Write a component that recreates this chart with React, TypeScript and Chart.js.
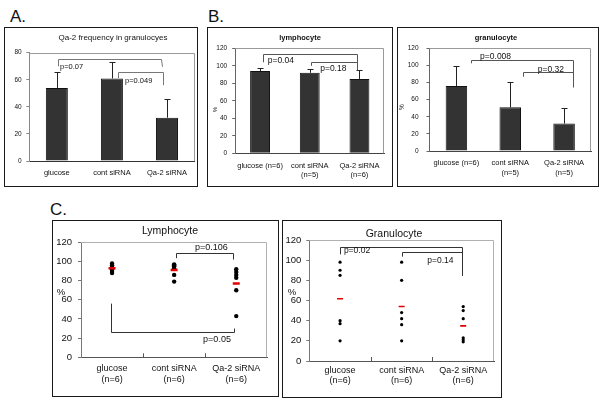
import React, { useEffect, useRef } from "react";
import { Chart, registerables } from "chart.js";
Chart.register(...registerables);

const FONT = "'Liberation Sans', Arial, sans-serif";

// ---------- Data ----------
// Panel A
const catsA: (string | string[])[] = ["glucose", "cont siRNA", "Qa-2 siRNA"];
const meanA = [54, 61, 32];
const sdA = [12, 12, 14];
const yTicksA = [0, 20, 40, 60, 80];

// Panel B
const catsBL: (string | string[])[] = [["glucose (n=6)"], ["cont siRNA", "(n=5)"], ["Qa-2 siRNA", "(n=6)"]];
const catsBG: (string | string[])[] = [["glucose (n=6)"], ["cont siRNA", "(n=5)"], ["Qa-2 siRNA", "(n=5)"]];
const meanBL = [94, 92, 85];
const sdBL = [4, 4, 10];
const meanBG = [76, 51, 32];
const sdBG = [23, 30, 18];
const yTicks120 = [0, 20, 40, 60, 80, 100, 120];

// Panel C
const catsC: (string | string[])[] = [["glucose", "(n=6)"], ["cont siRNA", "(n=6)"], ["Qa-2 siRNA", "(n=6)"]];
const lymphGlucose = [98, 96, 94, 92, 90, 88];
const lymphCont = [97, 96, 95, 93, 86, 79];
const lymphQa2 = [92, 89, 86, 83, 70, 43];
const lymphMeans = [93, 91, 77];
const granGlucose = [98, 90, 85, 40, 37, 20];
const granCont = [98, 80, 48, 42, 36, 20];
const granQa2 = [54, 50, 42, 23, 21, 19];
const granMeans = [61.7, 54, 34.8];

// ---------- Annotation specs (x in category units, y in data units) ----------
interface Bracket { x1: number; x2: number; y: number; y1: number; y2: number; x2e?: number; }
interface PText { text: string; x: number; y: number; align: CanvasTextAlign; }

const bracketsA: Bracket[] = [
  { x1: 0.03, x2: 1.886, y: 75, y1: 70, y2: 69.6, x2e: 1.915 },
  { x1: 1.116, x2: 1.933, y: 66, y1: 61.3, y2: 56 },
];
const pA: PText[] = [
  { text: "p=0.07", x: 0.057, y: 69.6, align: "left" },
  { text: "p=0.049", x: 1.238, y: 59, align: "left" },
];
const bracketsBL: Bracket[] = [
  { x1: 0.065, x2: 1.957, y: 113.5, y1: 104, y2: 94.9 },
  { x1: 1.02, x2: 1.957, y: 104, y1: 100, y2: 94.9 },
];
const pBL: PText[] = [
  { text: "p=0.04", x: 0.154, y: 105.8, align: "left" },
  { text: "p=0.18", x: 1.21, y: 97.1, align: "left" },
];
const bracketsBG: Bracket[] = [
  { x1: 0.271, x2: 2.16, y: 106, y1: 102.5, y2: 74.4 },
  { x1: 1.23, x2: 2.16, y: 92.6, y1: 86.8, y2: 74.4 },
];
const pBG: PText[] = [
  { text: "p=0.008", x: 0.44, y: 109.9, align: "left" },
  { text: "p=0.32", x: 1.51, y: 95.6, align: "left" },
];
const bracketsCL: Bracket[] = [
  { x1: 1.03, x2: 1.95, y: 108.5, y1: 103.5, y2: 102 },
  { x1: -0.01, x2: 1.97, y: 26.7, y1: 56, y2: 30 },
];
const pCL: PText[] = [
  { text: "p=0.106", x: 1.6, y: 114.8, align: "center" },
  { text: "p=0.05", x: 1.69, y: 18.5, align: "center" },
];
const bracketsCG: Bracket[] = [
  { x1: 0, x2: 1.974, y: 113.4, y1: 105.8, y2: 84.6 },
  { x1: 1.01, x2: 1.974, y: 107.8, y1: 103.5, y2: 84.6 },
];
const pCG: PText[] = [
  { text: "p=0.02", x: 0.275, y: 109.1, align: "center" },
  { text: "p=0.14", x: 1.63, y: 99.5, align: "center" },
];

type Box = [number, number, number, number];

interface Panel {
  box: Box;
  plot: Box;
  kind: "bar" | "dot";
  cats: (string | string[])[];
  yMax: number;
  yTicks: number[];
  means: number[];
  sds?: number[];
  dots?: number[][];
  dotR?: number;
  meanR?: number;
  meanW?: number;
  title: string;
  titleX: number;
  titleY: number;
  titleSize: number;
  titleBold: boolean;
  ySize: number;
  catSize: number;
  catLH: number;
  catPad: number;
  yPad: number;
  brackets: Bracket[];
  bColor: string;
  pTexts: PText[];
  pSize: number;
  pct: { x: number; y: number; size: number; rot: boolean };
  frame: string;
  axisL: string;
  axisB: string;
  catTicks: boolean;
}

const panels: Panel[] = [
  {
    box: [4, 27, 198, 187], plot: [29.3, 52.7, 194.5, 161], kind: "bar",
    cats: catsA, yMax: 80, yTicks: yTicksA, means: meanA, sds: sdA,
    title: "Qa-2 frequency in granulocyes", titleX: 113, titleY: 37.7, titleSize: 8, titleBold: false,
    ySize: 6.5, catSize: 7.5, catLH: 1.2, catPad: 7.2, yPad: 4.6,
    brackets: bracketsA, bColor: "#777", pTexts: pA, pSize: 7.5,
    pct: { x: 0, y: 0, size: 0, rot: false },
    frame: "#9a9a9a", axisL: "#888", axisB: "#333", catTicks: false,
  },
  {
    box: [207, 27, 393, 187], plot: [235.2, 48.3, 384.3, 153.3], kind: "bar",
    cats: catsBL, yMax: 120, yTicks: yTicks120, means: meanBL, sds: sdBL,
    title: "lymphocyte", titleX: 300, titleY: 38.3, titleSize: 7.5, titleBold: true,
    ySize: 6.5, catSize: 7.5, catLH: 1.25, catPad: 7.7, yPad: 5,
    brackets: bracketsBL, bColor: "#555", pTexts: pBL, pSize: 8.5,
    pct: { x: 215.7, y: 109.7, size: 6, rot: true },
    frame: "#9a9a9a", axisL: "#666", axisB: "#444", catTicks: false,
  },
  {
    box: [397, 27, 599, 187], plot: [429.5, 48.3, 591, 151], kind: "bar",
    cats: catsBG, yMax: 120, yTicks: yTicks120, means: meanBG, sds: sdBG,
    title: "granulocyte", titleX: 496, titleY: 38.3, titleSize: 7.5, titleBold: true,
    ySize: 6.5, catSize: 7.5, catLH: 1.25, catPad: 7.6, yPad: 8,
    brackets: bracketsBG, bColor: "#555", pTexts: pBG, pSize: 8.5,
    pct: { x: 402, y: 107, size: 6.5, rot: true },
    frame: "#9a9a9a", axisL: "#666", axisB: "#444", catTicks: false,
  },
  {
    box: [52, 220, 279, 397], plot: [81, 242.3, 267.3, 357.3], kind: "dot",
    cats: catsC, yMax: 120, yTicks: yTicks120, means: lymphMeans,
    dots: [lymphGlucose, lymphCont, lymphQa2], dotR: 2.2, meanR: 3.5, meanW: 2.5,
    title: "Lymphocyte", titleX: 170, titleY: 231, titleSize: 10.5, titleBold: false,
    ySize: 9.5, catSize: 9, catLH: 1.2, catPad: 6.3, yPad: 6,
    brackets: bracketsCL, bColor: "#333", pTexts: pCL, pSize: 9,
    pct: { x: 61, y: 292, size: 9.5, rot: false },
    frame: "#b0b0b0", axisL: "#777", axisB: "#555", catTicks: true,
  },
  {
    box: [282, 220, 502, 398], plot: [309.3, 240, 494, 361], kind: "dot",
    cats: catsC, yMax: 120, yTicks: yTicks120, means: granMeans,
    dots: [granGlucose, granCont, granQa2], dotR: 1.6, meanR: 3, meanW: 1.6,
    title: "Granulocyte", titleX: 394, titleY: 234, titleSize: 10.5, titleBold: false,
    ySize: 9.5, catSize: 9, catLH: 1.1, catPad: 4.7, yPad: 5,
    brackets: bracketsCG, bColor: "#333", pTexts: pCG, pSize: 8.5,
    pct: { x: 292, y: 292.7, size: 9.5, rot: false },
    frame: "#b0b0b0", axisL: "#777", axisB: "#555", catTicks: true,
  },
];

function buildConfig(p: Panel): any {
  const [bl, bt, br, bb] = p.box;
  const [pl, pt, pr, pb] = p.plot;

  const yScale: any = {
    min: 0,
    max: p.yMax,
    afterBuildTicks: (s: any) => { s.ticks = p.yTicks.map((v) => ({ value: v })); },
    afterFit: (s: any) => { s.width = pl - bl; },
    grid: { display: true, drawOnChartArea: false, drawTicks: true, tickLength: 3, color: p.axisL },
    border: { display: true, color: p.axisL, width: 1 },
    ticks: { font: { family: FONT, size: p.ySize }, color: "#111", padding: p.yPad, callback: (v: any) => String(v) },
  };

  const xCommon: any = {
    grid: { display: false, drawTicks: false },
    border: { display: true, color: p.axisB, width: 1 },
    afterFit: (s: any) => { s.height = bb - pb; },
  };
  const tickFont = { family: FONT, size: p.catSize, lineHeight: p.catLH };

  let xScale: any;
  let datasets: any[];
  if (p.kind === "bar") {
    xScale = {
      ...xCommon,
      type: "category",
      offset: true,
      ticks: { font: tickFont, color: "#111", padding: p.catPad, maxRotation: 0, autoSkip: false },
    };
    datasets = [{
      data: p.means,
      backgroundColor: "#333",
      borderColor: "#111",
      borderWidth: 1,
      barPercentage: 0.4,
      categoryPercentage: 1,
    }];
  } else {
    xScale = {
      ...xCommon,
      type: "linear",
      min: -0.5,
      max: 2.5,
      afterBuildTicks: (s: any) => { s.ticks = p.cats.map((_, i) => ({ value: i })); },
      ticks: { font: tickFont, color: "#111", padding: p.catPad, maxRotation: 0, autoSkip: false,
        callback: (v: any) => p.cats[v] },
    };
    datasets = [
      {
        data: p.means.map((m, i) => ({ x: i, y: m })),
        pointStyle: "line",
        pointRadius: p.meanR,
        borderColor: "#e00000",
        backgroundColor: "#e00000",
        borderWidth: p.meanW,
        showLine: false,
      },
      ...(p.dots || []).map((arr, i) => ({
        data: arr.map((v) => ({ x: i, y: v })),
        pointRadius: p.dotR,
        backgroundColor: "#000",
        borderColor: "#000",
        borderWidth: 0,
        showLine: false,
      })),
    ];
  }

  const deco = {
    id: "deco",
    beforeDatasetsDraw(chart: any) {
      const { ctx, chartArea: a } = chart;
      ctx.save();
      ctx.strokeStyle = p.frame;
      ctx.lineWidth = 1;
      ctx.beginPath();
      ctx.moveTo(a.left, Math.round(a.top) + 0.5);
      ctx.lineTo(Math.round(a.right) - 0.5, Math.round(a.top) + 0.5);
      ctx.lineTo(Math.round(a.right) - 0.5, a.bottom);
      ctx.stroke();
      if (p.catTicks) {
        const xs = chart.scales.x;
        ctx.strokeStyle = p.axisB;
        for (const v of [0.5, 1.5]) {
          const x = Math.round(xs.getPixelForValue(v)) + 0.5;
          ctx.beginPath();
          ctx.moveTo(x, a.bottom);
          ctx.lineTo(x, a.bottom - 4);
          ctx.stroke();
        }
      }
      ctx.restore();
    },
    afterDatasetsDraw(chart: any) {
      const { ctx } = chart;
      const xs = chart.scales.x;
      const ys = chart.scales.y;
      ctx.save();
      // error bars
      if (p.kind === "bar" && p.sds) {
        const meta = chart.getDatasetMeta(0);
        ctx.strokeStyle = "#222";
        ctx.lineWidth = 1;
        meta.data.forEach((el: any, i: number) => {
          const x = Math.round(el.x) + 0.5;
          const yTop = el.y;
          const yE = Math.round(ys.getPixelForValue(p.means[i] + p.sds![i])) + 0.5;
          ctx.beginPath();
          ctx.moveTo(x, yTop);
          ctx.lineTo(x, yE);
          ctx.moveTo(x - 3, yE);
          ctx.lineTo(x + 3, yE);
          ctx.stroke();
        });
      }
      // brackets
      ctx.strokeStyle = p.bColor;
      ctx.lineWidth = 1;
      for (const b of p.brackets) {
        const x1 = Math.round(xs.getPixelForValue(b.x1)) + 0.5;
        const x2 = Math.round(xs.getPixelForValue(b.x2)) + 0.5;
        const x2e = b.x2e !== undefined ? Math.round(xs.getPixelForValue(b.x2e)) + 0.5 : x2;
        const y = Math.round(ys.getPixelForValue(b.y)) + 0.5;
        const y1 = ys.getPixelForValue(b.y1);
        const y2 = ys.getPixelForValue(b.y2);
        ctx.beginPath();
        ctx.moveTo(x1, y1);
        ctx.lineTo(x1, y);
        ctx.lineTo(x2, y);
        ctx.lineTo(x2e, y2);
        ctx.stroke();
      }
      // p-value labels
      ctx.fillStyle = "#111";
      ctx.font = `${p.pSize}px ${FONT}`;
      ctx.textBaseline = "middle";
      for (const t of p.pTexts) {
        ctx.textAlign = t.align;
        ctx.fillText(t.text, xs.getPixelForValue(t.x), ys.getPixelForValue(t.y));
      }
      ctx.restore();
    },
    afterDraw(chart: any) {
      const { ctx } = chart;
      ctx.save();
      ctx.fillStyle = "#111";
      ctx.textAlign = "center";
      ctx.textBaseline = "middle";
      ctx.font = `${p.titleBold ? "bold " : ""}${p.titleSize}px ${FONT}`;
      ctx.fillText(p.title, p.titleX - bl, p.titleY - bt);
      if (p.pct.size > 0) {
        ctx.font = `${p.pct.size}px ${FONT}`;
        ctx.translate(p.pct.x - bl, p.pct.y - bt);
        if (p.pct.rot) ctx.rotate(-Math.PI / 2);
        ctx.fillText("%", 0, 0);
      }
      ctx.restore();
    },
  };

  return {
    type: p.kind === "bar" ? "bar" : "scatter",
    data: { labels: p.kind === "bar" ? p.cats : undefined, datasets },
    options: {
      responsive: false,
      maintainAspectRatio: false,
      animation: false,
      events: [],
      layout: { padding: { left: 0, top: pt - bt, right: br - pr, bottom: 0 } },
      plugins: { legend: { display: false }, tooltip: { enabled: false }, title: { display: false } },
      scales: { x: xScale, y: yScale },
    },
    plugins: [deco],
  };
}

function PanelChart({ p }: { p: Panel }) {
  const ref = useRef<HTMLCanvasElement>(null);
  useEffect(() => {
    const chart = new Chart(ref.current as HTMLCanvasElement, buildConfig(p));
    return () => chart.destroy();
  }, [p]);
  const w = p.box[2] - p.box[0];
  const h = p.box[3] - p.box[1];
  return (
    <>
      <canvas
        ref={ref}
        width={w}
        height={h}
        style={{ position: "absolute", left: p.box[0], top: p.box[1], width: w, height: h }}
      />
      <div
        style={{
          position: "absolute", left: p.box[0], top: p.box[1], width: w, height: h,
          boxSizing: "border-box", border: "1.5px solid #1a1a1a", pointerEvents: "none",
        }}
      />
    </>
  );
}

const letterStyle = (left: number, top: number): React.CSSProperties => ({
  position: "absolute", left, top, fontFamily: FONT, fontSize: 17, lineHeight: "17px", color: "#111",
});

export default function App() {
  return (
    <div style={{ position: "absolute", left: 0, top: 0, width: 600, height: 404, background: "#fff", overflow: "hidden" }}>
      <div style={letterStyle(10, 8)}>A.</div>
      <div style={letterStyle(208, 8)}>B.</div>
      <div style={letterStyle(50, 201)}>C.</div>
      {panels.map((p, i) => <PanelChart key={i} p={p} />)}
    </div>
  );
}
